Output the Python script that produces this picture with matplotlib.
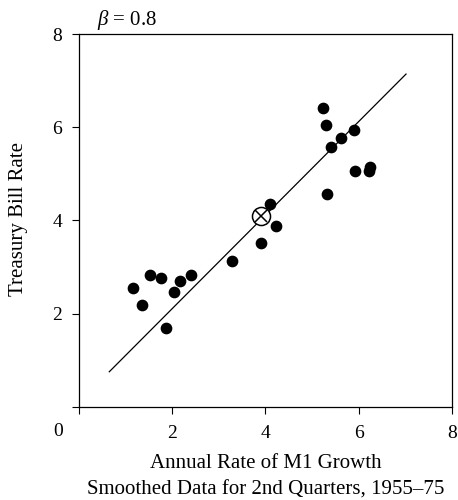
import matplotlib.pyplot as plt

plt.rcParams["font.family"] = ["Liberation Serif", "DejaVu Serif"]
plt.rcParams["mathtext.fontset"] = "custom"
plt.rcParams["mathtext.it"] = "Liberation Serif:italic"
plt.rcParams["mathtext.rm"] = "Liberation Serif"

# annual M1 growth vs treasury bill rate, 2nd quarters 1955-75
m1_growth = [1.16, 1.35, 1.52, 1.76, 1.87, 2.04, 2.17, 2.40, 3.28, 3.91,
             4.10, 4.22, 5.24, 5.31, 5.33, 5.40, 5.62, 5.91, 5.93, 6.25, 6.23]
tbill_rate = [2.55, 2.18, 2.83, 2.76, 1.69, 2.46, 2.70, 2.83, 3.13, 3.51,
              4.35, 3.87, 6.41, 6.04, 4.57, 5.57, 5.77, 5.94, 5.06, 5.15, 5.06]

# mean point and fitted line
mean_x, mean_y = 3.91, 4.09
line_x = [0.65, 7.02]
line_y = [0.75, 7.14]

x_ticks = [0, 2, 4, 6, 8]
y_ticks = [0, 2, 4, 6, 8]


def main():
    fig = plt.figure(figsize=(4.58, 5), dpi=100)
    ax = fig.add_axes([0.1725, 0.1866, 0.8137, 0.7454])

    ax.plot(line_x, line_y, color="black", lw=0.9)
    ax.scatter(m1_growth, tbill_rate, s=55, color="black", zorder=3)
    ax.plot(mean_x, mean_y, marker="o", ms=13, mfc="white", mec="black",
            mew=1.1, zorder=4)
    ax.plot(mean_x, mean_y, marker="x", ms=9, mec="black", mew=1.1, zorder=5)

    ax.set_xlim(0, 8)
    ax.set_ylim(0, 8)
    ax.set_xticks(x_ticks)
    ax.set_xticklabels(["", "2", "4", "6", "8"])
    ax.set_yticks(y_ticks)
    ax.set_yticklabels(["", "2", "4", "6", "8"])
    ax.tick_params(direction="out", length=5, width=0.8, labelsize=14)
    ax.tick_params(axis="x", pad=8)
    ax.tick_params(axis="y", pad=7)
    for sp in ax.spines.values():
        sp.set_linewidth(0.9)

    fig.text(58 / 458, 1 - 432 / 500, "0", ha="center", va="center", fontsize=14)
    ax.text(0.38, 8.04, r"$\beta$ = 0.8", ha="left", va="bottom", fontsize=15)

    fig.text(266 / 458, 1 - 463 / 500, "Annual Rate of M1 Growth",
             ha="center", va="center", fontsize=15)
    fig.text(266 / 458, 1 - 490 / 500,
             "Smoothed Data for 2nd Quarters, 1955\u201375",
             ha="center", va="center", fontsize=15)
    fig.text(19 / 458, 1 - 219 / 500, "Treasury Bill Rate", rotation=90,
             ha="center", va="center", fontsize=15)

    fig.savefig("out.png", dpi=100)


if __name__ == "__main__":
    main()
